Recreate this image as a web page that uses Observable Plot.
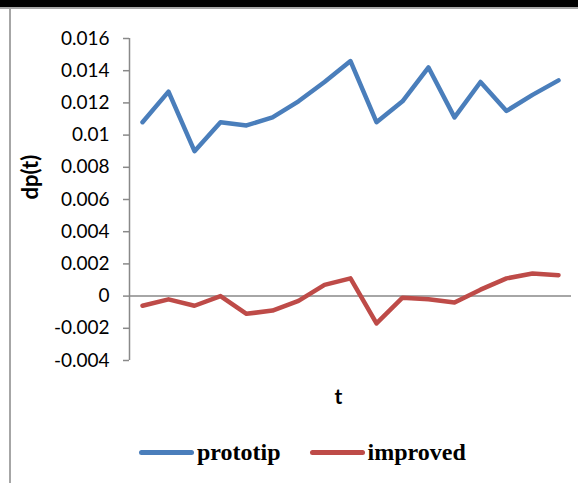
<!DOCTYPE html>
<html><head><meta charset="utf-8">
<script src="https://cdn.jsdelivr.net/npm/d3@7"></script>
<script src="https://cdn.jsdelivr.net/npm/@observablehq/plot@0.6"></script>
<style>
body{margin:0;background:#fff;}
#wrap{position:relative;width:578px;height:483px;overflow:hidden;background:#fff;}
#topbar{position:absolute;left:0;top:0;width:578px;height:7px;background:#000;}
#topline{position:absolute;left:0;top:7px;width:578px;height:2px;background:#a6a6a6;}
#leftline{position:absolute;left:9px;top:8px;width:2px;height:475px;background:#a6a6a6;}
#chart{position:absolute;left:0;top:0;}
#legend{position:absolute;top:439px;left:139px;display:flex;align-items:center;font-family:"Liberation Serif","Times New Roman",serif;font-weight:bold;font-size:24px;color:#000;}
.item{display:flex;align-items:center;margin-right:29px;}
.sw{width:55px;height:5px;border-radius:3px;margin-right:3px;}
</style></head>
<body>
<div id="wrap">
  <div id="chart"></div>
  <div id="topbar"></div><div id="topline"></div><div id="leftline"></div>
  <div id="legend"></div>
</div>
<script>
const steps = [1,2,3,4,5,6,7,8,9,10,11,12,13,14,15,16,17];
const prototip = [0.0108,0.0127,0.0090,0.0108,0.0106,0.0111,0.0121,0.0133,0.0146,0.0108,0.0121,0.0142,0.0111,0.0133,0.0115,0.0125,0.0134];
const improved = [-0.0006,-0.0002,-0.0006,0.0000,-0.0011,-0.0009,-0.0003,0.0007,0.0011,-0.0017,-0.0001,-0.0002,-0.0004,0.0004,0.0011,0.0014,0.0013];
const seriesNames = ["prototip","improved"];
const seriesColors = ["#4A7EBB","#BE4B48"];
const yTicks = [-0.004,-0.002,0,0.002,0.004,0.006,0.008,0.01,0.012,0.014,0.016];
const yLabel = "dp(t)";
const xLabel = "t";

const rows = [];
[prototip, improved].forEach((vals, si) => vals.forEach((v, i) => rows.push({t: steps[i], v, s: seriesNames[si]})));

const fmt = d => String(+d.toFixed(3));
const axisGray = "#898989";

const chart = Plot.plot({
  width: 578, height: 483,
  marginLeft: 129, marginRight: 7, marginTop: 38, marginBottom: 123,
  style: {fontFamily: "Lato, sans-serif", fontSize: "19px", background: "transparent", overflow: "visible"},
  x: {domain: [steps[0] - 0.5, steps[steps.length - 1] + 0.5], axis: null},
  y: {domain: [yTicks[0], yTicks[yTicks.length - 1]], axis: null},
  color: {domain: seriesNames, range: seriesColors},
  marks: [
    Plot.axisY({ticks: yTicks, tickFormat: fmt, label: null, tickSize: 6, tickPadding: 14, stroke: axisGray, strokeWidth: 1.5, fill: "#000", fontSize: 19}),
    Plot.ruleX([steps[0] - 0.5], {y1: yTicks[0], y2: yTicks[yTicks.length - 1], stroke: axisGray, strokeWidth: 1.5}),
    Plot.ruleY([0], {stroke: axisGray, strokeWidth: 1.5}),
    Plot.line(rows, {x: "t", y: "v", z: "s", stroke: "s", strokeWidth: 4.5, strokeLinejoin: "round", strokeLinecap: "round"}),
    Plot.text([yLabel], {frameAnchor: "left", dx: -99, rotate: -90, fontWeight: "bold", fontSize: 22, fill: "#000"}),
    Plot.text([xLabel], {frameAnchor: "bottom", dy: 43, dx: -12, fontWeight: "bold", fontSize: 21, fill: "#000"})
  ]
});
document.getElementById("chart").appendChild(chart);

const legend = document.getElementById("legend");
seriesNames.forEach((n, i) => {
  const it = document.createElement("div"); it.className = "item";
  const sw = document.createElement("div"); sw.className = "sw"; sw.style.background = seriesColors[i];
  const tx = document.createElement("span"); tx.textContent = n;
  it.appendChild(sw); it.appendChild(tx); legend.appendChild(it);
});
</script>
</body></html>
